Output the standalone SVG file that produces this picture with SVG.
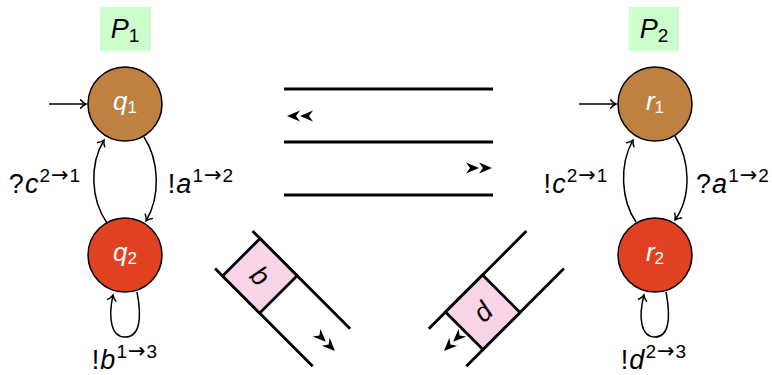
<svg xmlns="http://www.w3.org/2000/svg" xmlns:xlink="http://www.w3.org/1999/xlink" width="772" height="375" viewBox="0 0 772 375">
<style>
.lbl{font-family:"Liberation Sans",Arial,sans-serif;font-size:27px;fill:#000}
.el{letter-spacing:1px}
.it{font-style:italic}
.sup{font-size:19px}
.ar{font-family:"DejaVu Sans",sans-serif;font-size:21px}
.nt{font-family:"Liberation Sans",Arial,sans-serif;font-size:26px;fill:#fff}
.st{fill:none;stroke:#000;stroke-width:1.5}
.ch{stroke:#000;stroke-width:2.8;fill:none}
.box{fill:#F9D4E6;stroke:#000;stroke-width:2.8}
.pbox{fill:#CCFFCC}
</style>
<defs>
<marker id="to" markerUnits="userSpaceOnUse" markerWidth="14" markerHeight="14" viewBox="-7 -7 14 14" refX="0" refY="0" orient="auto" overflow="visible">
<path d="M-5.5,-4.2 C-3.5,-1.6 -1.2,-0.5 0,0 C-1.2,0.5 -3.5,1.6 -5.5,4.2" fill="none" stroke="#000" stroke-width="1.4" stroke-linecap="round"/>
</marker>
<path id="stl" d="M0,0 L-13,-5.5 L-9,0 L-13,5.5 Z" fill="#000"/>
</defs>

<g id="P1-label">
<rect class="pbox" x="100" y="7" width="51" height="44"/>
<text class="lbl" x="125" y="38" text-anchor="middle"><tspan class="it">P</tspan><tspan class="sup" dy="4">1</tspan></text>
</g>
<g id="P2-label">
<rect class="pbox" x="629" y="7" width="50" height="44"/>
<text class="lbl" x="654" y="38" text-anchor="middle"><tspan class="it">P</tspan><tspan class="sup" dy="4">2</tspan></text>
</g>

<g id="q1">
<circle cx="125" cy="104" r="37" fill="#BF8040" stroke="#000" stroke-width="1.5"/>
<text class="nt" x="125" y="110" text-anchor="middle"><tspan class="it">q</tspan><tspan font-size="17" dy="3">1</tspan></text>
</g>
<g id="q2">
<circle cx="125" cy="255" r="37" fill="#E04221" stroke="#000" stroke-width="1.5"/>
<text class="nt" x="125" y="261" text-anchor="middle"><tspan class="it">q</tspan><tspan font-size="17" dy="3">2</tspan></text>
</g>
<g id="r1">
<circle cx="655" cy="104" r="37" fill="#BF8040" stroke="#000" stroke-width="1.5"/>
<text class="nt" x="655" y="110" text-anchor="middle"><tspan class="it">r</tspan><tspan font-size="17" dy="3">1</tspan></text>
</g>
<g id="r2">
<circle cx="655" cy="255" r="37" fill="#E04221" stroke="#000" stroke-width="1.5"/>
<text class="nt" x="655" y="261" text-anchor="middle"><tspan class="it">r</tspan><tspan font-size="17" dy="3">2</tspan></text>
</g>

<g id="channel-c">
<line class="ch" x1="284" y1="89" x2="493" y2="89"/>
<line class="ch" x1="284" y1="142" x2="493" y2="142"/>
<use xlink:href="#stl" href="#stl" transform="translate(287,116) rotate(180)"/>
<use xlink:href="#stl" href="#stl" transform="translate(300,116) rotate(180)"/>
</g>
<g id="channel-a">
<line class="ch" x1="284" y1="195" x2="493" y2="195"/>
<use xlink:href="#stl" href="#stl" transform="translate(479,168)"/>
<use xlink:href="#stl" href="#stl" transform="translate(492,168)"/>
</g>
<g id="channel-b" transform="translate(260,276) rotate(45)">
<line class="ch" x1="-37" y1="-26.5" x2="101" y2="-26.5"/>
<line class="ch" x1="-37" y1="26.5" x2="101" y2="26.5"/>
<rect class="box" x="-26.5" y="-26.5" width="52.5" height="53"/>
<text class="lbl it" x="0" y="9" text-anchor="middle">b</text>
<use xlink:href="#stl" href="#stl" transform="translate(93,0)"/>
<use xlink:href="#stl" href="#stl" transform="translate(106,0)"/>
</g>
<g id="channel-d" transform="translate(519,276) rotate(135)">
<line class="ch" x1="-37" y1="-26.5" x2="101" y2="-26.5"/>
<line class="ch" x1="-37" y1="26.5" x2="101" y2="26.5"/>
<rect class="box" x="25" y="-26.5" width="52.5" height="53"/>
<text class="lbl it" x="0" y="0" text-anchor="middle" transform="translate(51,0) rotate(180) translate(0,9)">d</text>
<use xlink:href="#stl" href="#stl" transform="translate(93,0)"/>
<use xlink:href="#stl" href="#stl" transform="translate(106,0)"/>
</g>

<g id="connectors">
<line class="st" x1="49" y1="104" x2="86" y2="104" marker-end="url(#to)"/>
<line class="st" x1="579" y1="104" x2="616" y2="104" marker-end="url(#to)"/>
<path class="st" d="M144,137 C159,160 161,196 146,221" marker-end="url(#to)"/>
<path class="st" d="M107,223 C91,200 89,165 104,140" marker-end="url(#to)"/>
<path class="st" d="M137,292 C142,318 140,337 125,337 C111,337 108,318 113,295" marker-end="url(#to)"/>
<path class="st" d="M675,136 C690,160 692,196 675,220" marker-end="url(#to)"/>
<path class="st" d="M636,222 C621,200 619,165 633,140" marker-end="url(#to)"/>
<path class="st" d="M666,292 C671,318 669,337 655,337 C641,337 638,318 644,295" marker-end="url(#to)"/>
</g>

<g id="edge-labels">
<text class="lbl el" x="45" y="193" text-anchor="middle">?<tspan class="it">c</tspan><tspan class="sup" dy="-11">2<tspan class="ar">→</tspan>1</tspan></text>
<text class="lbl el" x="201" y="193" text-anchor="middle">!<tspan class="it">a</tspan><tspan class="sup" dy="-11">1<tspan class="ar">→</tspan>2</tspan></text>
<text class="lbl el" x="125" y="369" text-anchor="middle">!<tspan class="it">b</tspan><tspan class="sup" dy="-11">1<tspan class="ar">→</tspan>3</tspan></text>
<text class="lbl el" x="576" y="193" text-anchor="middle">!<tspan class="it">c</tspan><tspan class="sup" dy="-11">2<tspan class="ar">→</tspan>1</tspan></text>
<text class="lbl el" x="733" y="193" text-anchor="middle">?<tspan class="it">a</tspan><tspan class="sup" dy="-11">1<tspan class="ar">→</tspan>2</tspan></text>
<text class="lbl el" x="654" y="369" text-anchor="middle">!<tspan class="it">d</tspan><tspan class="sup" dy="-11">2<tspan class="ar">→</tspan>3</tspan></text>
</g>
</svg>
